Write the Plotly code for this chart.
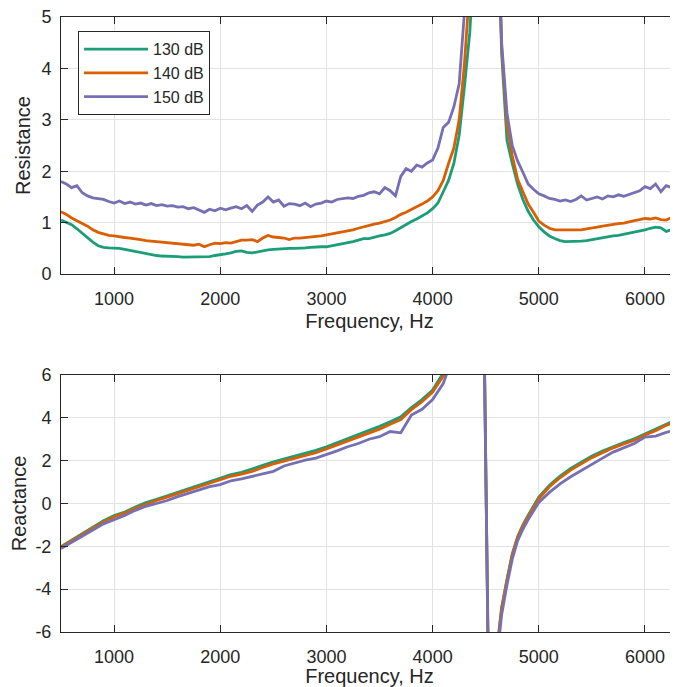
import plotly.graph_objects as go

# ---------------- data ----------------
series_names = ["130 dB", "140 dB", "150 dB"]
series_colors = ["#1b9e77", "#d95f02", "#7570b3"]

freq_r = list(range(500, 6301, 50))

r130 = [1.05, 1.01, 0.96, 0.88, 0.79, 0.70, 0.62, 0.55, 0.52, 0.51,
        0.51, 0.50, 0.48, 0.46, 0.44, 0.41, 0.39, 0.37, 0.36, 0.35,
        0.35, 0.34, 0.34, 0.33, 0.33, 0.33, 0.33, 0.33, 0.34, 0.36,
        0.37, 0.39, 0.41, 0.44, 0.45, 0.42, 0.41, 0.43, 0.46, 0.47,
        0.48, 0.49, 0.49, 0.50, 0.50, 0.50, 0.51, 0.52, 0.53, 0.53,
        0.53, 0.55, 0.57, 0.59, 0.60, 0.63, 0.66, 0.69, 0.69, 0.72,
        0.74, 0.76, 0.79, 0.84, 0.90, 0.97, 1.02, 1.07, 1.13, 1.19,
        1.27, 1.38, 1.60, 1.82, 2.15, 2.70, 3.65, 4.70, 6.50, 8.50,
        9.50, 9.00, 8.00, 4.30, 2.60, 2.15, 1.75, 1.45, 1.22, 1.05,
        0.92, 0.82, 0.74, 0.69, 0.65, 0.63, 0.63, 0.63, 0.64, 0.65,
        0.67, 0.68, 0.70, 0.72, 0.74, 0.75, 0.77, 0.79, 0.81, 0.83,
        0.86, 0.89, 0.91, 0.90, 0.83, 0.86, 0.92]

r140 = [1.21, 1.16, 1.09, 1.04, 0.98, 0.93, 0.86, 0.81, 0.78, 0.75,
        0.74, 0.72, 0.71, 0.70, 0.69, 0.67, 0.65, 0.64, 0.63, 0.63,
        0.62, 0.61, 0.60, 0.58, 0.57, 0.56, 0.58, 0.53, 0.57, 0.60,
        0.59, 0.61, 0.60, 0.63, 0.66, 0.66, 0.67, 0.63, 0.70, 0.75,
        0.72, 0.71, 0.70, 0.67, 0.70, 0.70, 0.71, 0.72, 0.72, 0.74,
        0.76, 0.78, 0.80, 0.81, 0.83, 0.86, 0.89, 0.92, 0.94, 0.97,
        0.99, 1.02, 1.05, 1.10, 1.16, 1.20, 1.25, 1.31, 1.36, 1.42,
        1.50, 1.62, 1.82, 2.15, 2.45, 3.00, 4.10, 5.60, 7.50, 9.00,
        9.80, 9.20, 7.80, 4.40, 2.90, 2.30, 1.85, 1.60, 1.36, 1.20,
        1.03, 0.95, 0.89, 0.86, 0.86, 0.85, 0.86, 0.86, 0.86, 0.88,
        0.89, 0.91, 0.93, 0.95, 0.96, 0.98, 0.99, 1.02, 1.04, 1.06,
        1.08, 1.07, 1.09, 1.06, 1.05, 1.10, 1.14]

r150 = [1.80, 1.75, 1.68, 1.72, 1.58, 1.52, 1.48, 1.46, 1.45, 1.41,
        1.38, 1.42, 1.37, 1.40, 1.36, 1.38, 1.34, 1.37, 1.33, 1.35,
        1.32, 1.33, 1.30, 1.31, 1.27, 1.29, 1.24, 1.20, 1.26, 1.23,
        1.28, 1.25, 1.28, 1.31, 1.27, 1.33, 1.22, 1.34, 1.40, 1.50,
        1.40, 1.44, 1.32, 1.37, 1.36, 1.33, 1.38, 1.31, 1.36, 1.38,
        1.42, 1.40, 1.45, 1.46, 1.48, 1.47, 1.51, 1.53, 1.58, 1.60,
        1.56, 1.68, 1.62, 1.52, 1.90, 2.05, 2.00, 2.12, 2.08, 2.16,
        2.22, 2.45, 2.85, 2.95, 3.25, 3.70, 4.80, 6.50, 8.50, 9.50,
        10.0, 9.50, 8.00, 4.50, 3.13, 2.50, 2.20, 1.98, 1.75, 1.65,
        1.56, 1.52, 1.47, 1.45, 1.42, 1.44, 1.41, 1.45, 1.52, 1.44,
        1.47, 1.50, 1.46, 1.52, 1.50, 1.54, 1.51, 1.55, 1.58, 1.62,
        1.70, 1.66, 1.75, 1.60, 1.72, 1.68, 1.80]

freq_x = [500, 600, 700, 800, 900, 1000, 1100, 1200, 1300, 1400,
          1500, 1600, 1700, 1800, 1900, 2000, 2100, 2200, 2300, 2400,
          2500, 2600, 2700, 2800, 2900, 3000, 3100, 3200, 3300, 3400,
          3500, 3600, 3700, 3800, 3900, 4000, 4100, 4200, 4350, 4470,
          4540, 4600, 4650, 4700, 4750, 4800, 4850, 4900, 4950, 5000,
          5100, 5200, 5300, 5400, 5500, 5600, 5700, 5800, 5900, 6000,
          6100, 6200, 6300]

x130 = [-2.02, -1.72, -1.40, -1.08, -0.80, -0.56, -0.40, -0.17, 0.04, 0.20,
        0.36, 0.53, 0.70, 0.86, 1.02, 1.18, 1.35, 1.45, 1.60, 1.78,
        1.95, 2.08, 2.22, 2.35, 2.48, 2.65, 2.84, 3.03, 3.20, 3.42,
        3.60, 3.82, 4.05, 4.48, 4.85, 5.30, 6.10, 7.50, 10.0, 14.0,
        -14.0, -7.0, -4.85, -3.55, -2.35, -1.55, -1.00, -0.55, -0.10, 0.30,
        0.85, 1.28, 1.64, 1.95, 2.22, 2.45, 2.66, 2.85, 3.02, 3.25,
        3.48, 3.72, 3.93]

x140 = [-2.04, -1.74, -1.44, -1.14, -0.86, -0.62, -0.45, -0.23, -0.03, 0.14,
        0.30, 0.46, 0.63, 0.78, 0.93, 1.08, 1.27, 1.37, 1.50, 1.68,
        1.85, 1.98, 2.12, 2.25, 2.37, 2.55, 2.73, 2.92, 3.10, 3.30,
        3.47, 3.70, 3.92, 4.38, 4.75, 5.20, 5.95, 7.30, 10.0, 14.0,
        -14.0, -7.2, -4.90, -3.60, -2.40, -1.60, -1.05, -0.62, -0.20, 0.22,
        0.78, 1.20, 1.56, 1.87, 2.14, 2.37, 2.60, 2.78, 2.95, 3.20,
        3.40, 3.65, 3.82]

x150 = [-2.10, -1.80, -1.50, -1.24, -0.95, -0.77, -0.56, -0.32, -0.13, 0.00,
        0.14, 0.32, 0.48, 0.62, 0.79, 0.88, 1.06, 1.15, 1.26, 1.38,
        1.50, 1.75, 1.90, 2.02, 2.12, 2.28, 2.46, 2.65, 2.80, 3.00,
        3.12, 3.36, 3.30, 4.13, 4.40, 4.85, 5.60, 7.00, 9.50, 13.0,
        -13.0, -7.5, -5.20, -3.80, -2.60, -1.75, -1.20, -0.75, -0.35, 0.05,
        0.52, 0.92, 1.25, 1.55, 1.85, 2.12, 2.40, 2.60, 2.80, 3.10,
        3.15, 3.32, 3.45]

freq_ticks = [1000, 2000, 3000, 4000, 5000, 6000]
res_ticks = [0, 1, 2, 3, 4, 5]
rea_ticks = [-6, -4, -2, 0, 2, 4, 6]
rea_tick_labels = ["-6", "-4", "-2", "0", "2", "4", "6"]

# ---------------- figure ----------------
fig = go.Figure()
res_list = [r130, r140, r150]
rea_list = [x130, x140, x150]
for name, col, r in zip(series_names, series_colors, res_list):
    fig.add_trace(go.Scatter(x=freq_r, y=r, mode="lines", name=name,
                             line=dict(color=col, width=2.8),
                             xaxis="x", yaxis="y", showlegend=True))
for name, col, xv in zip(series_names, series_colors, rea_list):
    fig.add_trace(go.Scatter(x=freq_x, y=xv, mode="lines", name=name,
                             line=dict(color=col, width=2.8),
                             xaxis="x2", yaxis="y2", showlegend=False))

TXT = "#262626"
GRID = "#e3e3e3"
axis_common = dict(showline=True, linecolor=TXT, linewidth=1, mirror="ticks",
                   ticks="inside", ticklen=7, tickcolor=TXT, tickwidth=1,
                   showgrid=True, gridcolor=GRID, gridwidth=1,
                   zeroline=False, automargin=False,
                   ticklabeloverflow="allow",
                   tickfont=dict(family="Liberation Sans", size=18, color=TXT))
TITLE_FONT = dict(family="Liberation Sans", size=20, color=TXT)

# the page adds an 8 px body margin, so the figure is 8 px smaller each way
fig.update_layout(
    width=670, height=679,
    margin=dict(l=53, r=0, t=9, b=55),
    paper_bgcolor="white", plot_bgcolor="white",
    font=dict(family="Liberation Sans", color=TXT),
    xaxis=dict(domain=[0, 1], anchor="y", range=[500, 6311],
               tickvals=freq_ticks, ticklabelstandoff=8,
               title=dict(text="Frequency, Hz", standoff=6, font=TITLE_FONT),
               **axis_common),
    yaxis=dict(domain=[0.5821, 1], anchor="x", range=[0, 5],
               tickvals=res_ticks, ticklabelstandoff=5,
               title=dict(text="Resistance", standoff=5, font=TITLE_FONT),
               **axis_common),
    xaxis2=dict(domain=[0, 1], anchor="y2", range=[500, 6311],
                tickvals=freq_ticks, ticklabelstandoff=8,
                title=dict(text="Frequency, Hz", standoff=2, font=TITLE_FONT),
                **axis_common),
    yaxis2=dict(domain=[0, 0.4179], anchor="x2", range=[-6, 6],
                tickvals=rea_ticks, ticktext=rea_tick_labels,
                ticklabelstandoff=5,
                title=dict(text="Reactance", standoff=5, font=TITLE_FONT),
                **axis_common),
    legend=dict(x=0.0276, y=0.977, xanchor="left", yanchor="top",
                bgcolor="white", bordercolor=TXT, borderwidth=1,
                font=dict(family="Liberation Sans", size=16, color=TXT),
                itemwidth=64, tracegroupgap=0),
)

fig.write_html("out.html")
